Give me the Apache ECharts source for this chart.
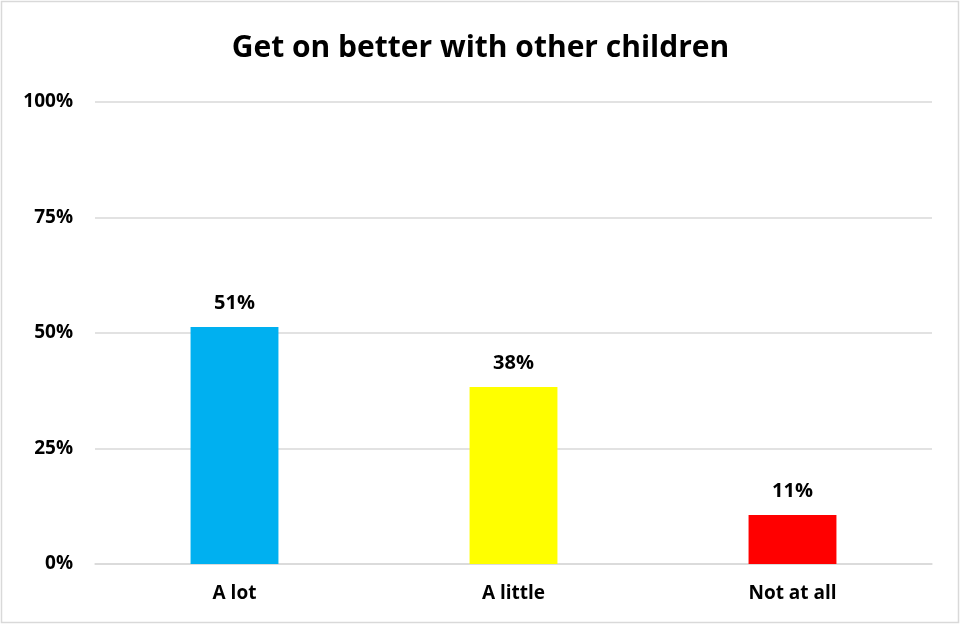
<!DOCTYPE html>
<html><head><meta charset="utf-8">
<script src="https://cdn.jsdelivr.net/npm/echarts@6/dist/echarts.min.js"></script>
<style>html,body{margin:0;padding:0;background:#fff}#c{width:961px;height:626px}</style>
</head><body><div id="c"></div>
<script>
const title = 'Get on better with other children';
const categories = ['A lot', 'A little', 'Not at all'];
const values = [51.3, 38.3, 10.6];
const labels = ['51%', '38%', '11%'];
const colors = ['#00B0F0', '#FFFF00', '#FF0000'];
const yTicks = [0, 25, 50, 75, 100];

const font = '"Open Sans", "Liberation Sans", sans-serif';
const chart = echarts.init(document.getElementById('c'));
chart.setOption({
  animation: false,
  title: { text: title, left: 'center', top: 28,
    textStyle: { fontFamily: font, fontWeight: 'bold', fontSize: 30, color: '#000' } },
  graphic: [{ type: 'rect', shape: { x: 1.5, y: 1.5, width: 957, height: 621 },
    style: { fill: 'none', stroke: '#D9D9D9', lineWidth: 1.5 }, silent: true }],
  grid: { left: 95, right: 29, top: 102, bottom: 62, containLabel: false },
  xAxis: { type: 'category', data: categories,
    axisLine: { lineStyle: { color: '#D9D9D9', width: 1.5 } }, axisTick: { show: false },
    axisLabel: { fontFamily: font, fontWeight: 'bold', fontSize: 19, color: '#000', margin: 20 } },
  yAxis: { type: 'value', min: yTicks[0], max: yTicks[yTicks.length - 1], interval: 25,
    axisLine: { show: false }, axisTick: { show: false },
    splitLine: { lineStyle: { color: '#D9D9D9', width: 1.5 } },
    axisLabel: { fontFamily: font, fontWeight: 'bold', fontSize: 19, color: '#000', margin: 22,
      formatter: v => v + '%' } },
  series: [{ type: 'bar', barWidth: '31.5%',
    data: values.map((v, i) => ({ value: v, itemStyle: { color: colors[i] } })),
    label: { show: true, position: 'top', distance: 14, fontFamily: font, fontWeight: 'bold',
      fontSize: 20, color: '#000', formatter: p => labels[p.dataIndex] } }]
});
</script></body></html>
